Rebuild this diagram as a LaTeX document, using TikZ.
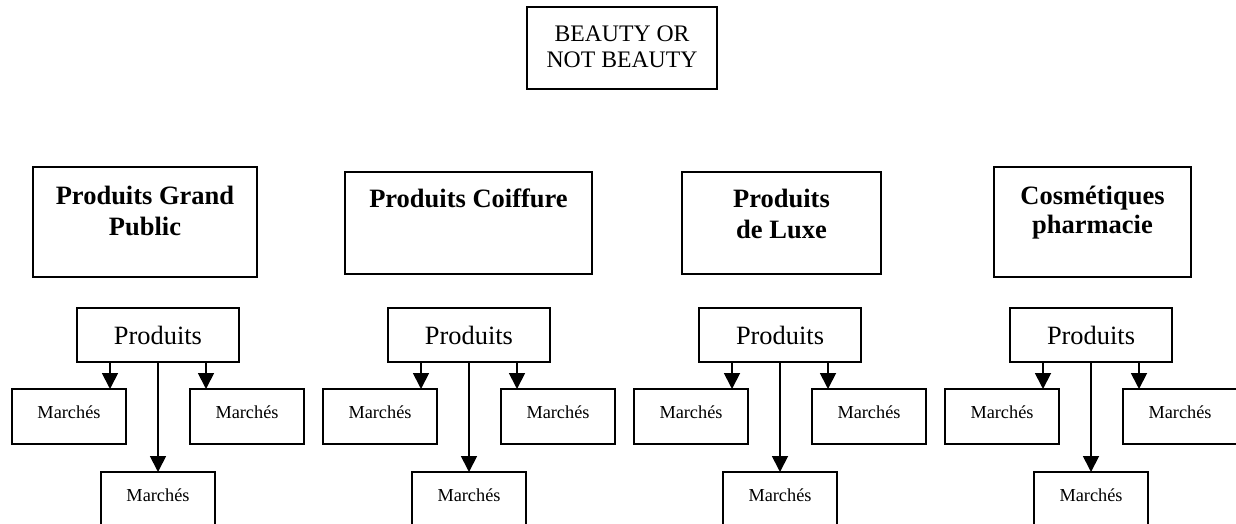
\documentclass[tikz,border=0pt]{standalone}
\usepackage{fontspec}
\setmainfont{Liberation Serif}
\usetikzlibrary{arrows.meta}
\newcommand\mkgrp[2]{%
  \node[box, minimum width=162pt, minimum height=54pt] (P#1) at (#2,308) {};
  \node[prod] (Pt#1) at (#2+81,344) {Produits};
  \node[box, minimum width=114pt, minimum height=55pt] (ML#1) at (#2-65,389) {};
  \node[mk] (MLt#1) at (#2-8,418) {Marchés};
  \node[box, minimum width=114pt, minimum height=55pt] (MR#1) at (#2+113,389) {};
  \node[mk] (MRt#1) at (#2+170,418) {Marchés};
  \node[box, minimum width=114pt, minimum height=55pt] (MB#1) at (#2+24,472) {};
  \node[mk] (MBt#1) at (#2+81,501) {Marchés};
  \coordinate (aL#1) at ([xshift=33pt]P#1.south west);
  \coordinate (aR#1) at ([xshift=-33pt]P#1.south east);
  \draw[arr] (aL#1) -- (aL#1 |- ML#1.north);
  \draw[arr] (aR#1) -- (aR#1 |- MR#1.north);
  \draw[arr] (P#1.south) -- (MB#1.north);
}
\begin{document}
\begin{tikzpicture}[x=1pt,y=-1pt,
  box/.style={draw, line width=1.8pt, inner sep=0pt, outer sep=0pt, anchor=north west},
  arr/.style={line width=1.8pt, -{Triangle[length=16pt,width=16pt]}},
  hdr/.style={font=\fontsize{26.5}{31}\selectfont\bfseries, anchor=base, inner sep=0pt},
  prod/.style={font=\fontsize{26.4}{30}\selectfont, anchor=base, inner sep=0pt},
  mk/.style={font=\fontsize{18.3}{22}\selectfont, anchor=base, inner sep=0pt},
  ttl/.style={font=\fontsize{23.7}{26}\selectfont, anchor=base, inner sep=0pt}]
\useasboundingbox (0,0) rectangle (1236,524);
% title
\node[box, minimum width=190pt, minimum height=82pt] (top) at (527,7) {};
\node[ttl] (t1) at (622,42) {BEAUTY OR};
\node[ttl] (t2) at (622,68) {NOT BEAUTY};
% headers
\node[box, minimum width=224pt, minimum height=110pt] (H1) at (33,167) {};
\node[hdr] (H1a) at (145,204) {Produits Grand};
\node[hdr] (H1b) at (145,235) {Public};
\node[box, minimum width=247pt, minimum height=102pt] (H2) at (345,172) {};
\node[hdr] (H2a) at (468.5,207) {Produits Coiffure};
\node[box, minimum width=199pt, minimum height=102pt] (H3) at (682,172) {};
\node[hdr] (H3a) at (781.5,207) {Produits};
\node[hdr] (H3b) at (781.5,238) {de Luxe};
\node[box, minimum width=197pt, minimum height=110pt] (H4) at (994,167) {};
\node[hdr] (H4a) at (1092.5,204) {Cosmétiques};
\node[hdr] (H4b) at (1092.5,233) {pharmacie};
% groups
\mkgrp{1}{77}
\mkgrp{2}{388}
\mkgrp{3}{699}
\mkgrp{4}{1010}
\end{tikzpicture}
\end{document}
